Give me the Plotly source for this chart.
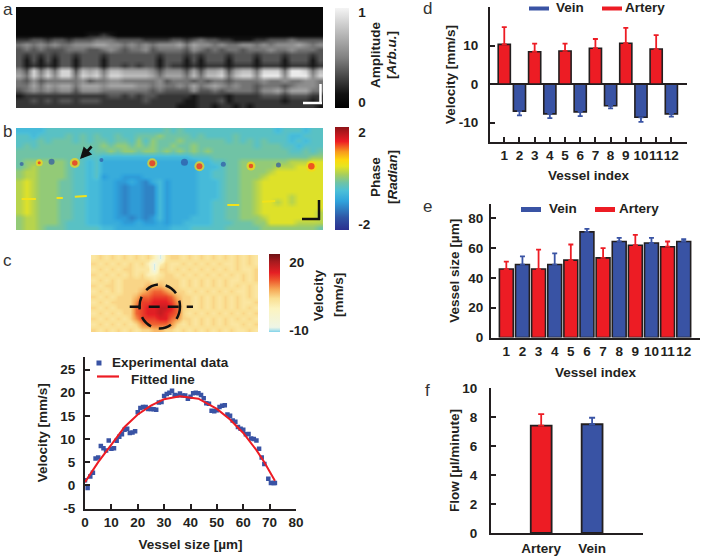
import plotly.graph_objects as go

W, H = 701, 557
FONT = "Liberation Sans"
DARK = "#231f20"
RED = "#ed1c24"
BLUE = "#3953a4"

# ---------- panel a: amplitude image, digits 0-9 = 0..1, rows top to bottom
amp_rows = [
    "00000000000 00000000000 00000000000 00000000000",
    "00000000000 00000000000 00000000000 00000000000",
    "00000000000 00000000000 00000000000 00000000000",
    "00000000000 00000000000 00000000000 00000000000",
    "00000000000 00000000000 00000000000 00000000000",
    "00000000001 12100000000 00000000000 00000000000",
    "22332332333 44433332222 33234332211 12233343333",
    "45454544555 66554545455 56465545445 54545556545",
    "34343334443 34543445344 44354343443 44454454443",
    "32323233233 32333333323 33232333233 32333233323",
    "31313133133 31333333313 33131333133 31333133313",
    "31212133133 31332323313 22121222122 21222122212",
    "53847488376 74776666535 55363667367 74888499847",
    "64858588487 85887777646 66474778478 85999599958",
    "43534444453 44554444453 44434344344 44544544554",
    "44646566466 65666655454 45464565454 43444345554",
    "34545455355 54444444343 33353343444 43556466644",
    "12222222222 22332323322 22212222122 22333233322",
    "22323233233 32222223222 22112223122 22222122212",
    "22222222222 22222222222 21112212212 12222222221",
]

# ---------- panel b: phase image, digits index into phase_levels
phase_levels = [-1.3, -1.08, -0.86, -0.64, -0.42, -0.2, 0.02, 0.24, 0.46, 0.68]
phase_rows = [
    "33334444444 44444444445 45444444444 44443444344",
    "44344445454 54454455565 55545444454 44444433444",
    "44454555454 55455464655 56555555454 54544434344",
    "45455555555 56566565655 65565555555 54555443444",
    "55555555554 55656656656 56565655555 55555544545",
    "55555555544 43333333333 33344455555 55555555566",
    "56666665543 42222222222 22223344556 66666677788",
    "56766665443 42222222222 22223334556 66667778888",
    "67766665443 42222222222 22223344556 66678888888",
    "67766665443 41221112222 22223344556 66788888888",
    "78766655443 32211210231 22223334556 67888888888",
    "78766655443 32210110031 22223334556 67888888888",
    "78766655443 32210110031 22223334556 67888888888",
    "78766655443 32210110031 22223334556 67888878888",
    "78766655443 32210110031 22223344556 67887878888",
    "78766655443 32210110031 22223344556 67888888888",
    "78766655443 32210110031 22223344556 67888888887",
    "67766655443 32211010131 22233344556 66788888887",
    "67766654443 32221121121 22333344455 56688887777",
    "67765554444 43322222222 33344444555 55666666665",
]
red_x = [59, 136.7, 184, 235.7, 296.3]
red_y = [35, 35.3, 38.3, 38, 38.3]
small_x = [23.3]
small_y = [34.7]
dark_x = [35.7, 169, 208, 263.3, 5.7, 85.7]
dark_y = [33.7, 34.3, 36.3, 37, 36, 32]
streak_x = [5.7, 20, None, 40.7, 47, None, 59, 71, None, 212, 224, None, 247, 260]
streak_y = [71, 71, None, 70, 70, None, 68.7, 68, None, 77, 77, None, 73.7, 73]

# ---------- panel c: velocity image, digits index into vel_levels
vel_levels = [-9.5, 0, 2.4, 4.6, 6.8, 9, 11.2, 13.4, 15.6, 17.8]
vel_rows = [
    "2323232 3231023 3232323 2323232",
    "3232323 2310132 2323232 3223232",
    "2323233 2220332 3232323 2323223",
    "3232323 2311233 2323232 3232323",
    "2323233 3332333 3232323 2322323",
    "3233233 3344433 3232323 2323232",
    "2323233 3456654 3323232 3232232",
    "3232333 4667776 4332323 2323232",
    "2323333 5778887 5332323 2323223",
    "3232333 6788998 6332323 2323232",
    "2323233 6788987 6323232 3232323",
    "3232323 5777886 5332323 2323232",
    "2323232 3566665 3232323 2322323",
    "3232323 2334433 2323232 3232232",
]

# ---------- profile chart
profile_x = list(range(0, 69)) + [69.5, 70.5, 71.5, 72]
profile_y = [1.1, -0.6, 1.9, 2.7, 5.8, 6.0, 8.5, 8.0, 7.5, 9.7, 7.9, 8.0, 9.6, 10.5, 11.0, 12.0,
             12.2, 11.3, 11.4, 11.7, 15.8, 16.7, 16.9, 16.9, 16.5, 16.5, 16.4, 16.3, 17.9, 18.0,
             19.3, 19.7, 20.0, 20.4, 19.5, 19.4, 19.8, 19.4, 19.4, 18.7, 19.1, 19.9, 20.0, 19.9,
             19.5, 18.8, 17.7, 17.6, 16.1, 16.0, 16.2, 16.9, 17.2, 17.3, 15.3, 15.0, 14.0, 13.7,
             12.6, 12.2, 12.0, 11.0, 11.1, 10.1, 10.0, 9.7, 7.9, 6.0, 4.6, 1.4, 0.5, 0.5, 0.5]
fit_x = [0, 5, 10, 15, 20, 25, 30, 36, 43, 50, 55, 60, 65, 68, 72]
fit_y = [0.7, 5.0, 8.8, 12.6, 15.3, 17.2, 18.6, 19.2, 18.7, 16.5, 14.2, 11.3, 7.6, 5.0, 1.0]

# ---------- panel d
art_idx = [1, 3, 5, 7, 9, 11]
vein_idx = [2, 4, 6, 8, 10, 12]
d_art = [10.3, 8.4, 8.6, 9.3, 10.6, 9.1]
d_art_err = [4.5, 2.1, 1.9, 2.4, 4.0, 3.6]
d_vein = [-7.0, -7.7, -7.2, -5.6, -8.6, -7.7]
d_vein_err = [1.1, 1.1, 1.1, 0.7, 1.2, 0.7]

# ---------- panel e
e_art = [46, 46, 52, 53.5, 62, 61]
e_art_err = [5, 13, 10.5, 6.5, 7, 3.5]
e_vein = [49, 49, 71, 64.5, 63.5, 64.5]
e_vein_err = [5.5, 7.5, 2, 2.5, 3.5, 1.5]
vessel_ticks = list(range(1, 13))

# ---------- panel f
f_labels = ["Artery", "Vein"]
f_vals = [7.4, 7.5]
f_errs = [0.8, 0.45]


def expand(rows, levels=None):
    out = []
    for r in rows:
        r = r.replace(" ", "")
        out.append([int(c) / 9 if levels is None else levels[int(c)] for c in r])
    return out


def dom_x(a, b):
    return [a / W, b / W]


def dom_y(top, bottom):
    return [1 - bottom / H, 1 - top / H]


fig = go.Figure()
layout = {}
tickfont = dict(family=FONT, size=13.5, color=DARK, weight="bold")
titlefont = dict(family=FONT, size=13.5, color=DARK, weight="bold")


def image_axes(n, x0, x1, y0, y1, xr, yr):
    layout[f"xaxis{n}"] = dict(domain=dom_x(x0, x1), range=xr, anchor=f"y{n}", visible=False, automargin=False)
    layout[f"yaxis{n}"] = dict(domain=dom_y(y0, y1), range=yr, anchor=f"x{n}", visible=False, automargin=False)


def chart_axes(n, x0, x1, y0, y1, xr, yr, xticks, xtext, yticks, xtitle, ytitle,
               xticklen=5, standoff=10, ystandoff=6, ygap=0, xgap=0):
    layout[f"xaxis{n}"] = dict(domain=dom_x(x0, x1), range=xr, anchor=f"y{n}", showgrid=False,
                               zeroline=False, showline=True, linecolor=DARK, linewidth=2,
                               ticks="inside" if xticklen else "", ticklen=xticklen, tickwidth=2,
                               tickcolor=DARK, tickmode="array", tickvals=xticks, ticktext=xtext,
                               tickangle=0, tickfont=tickfont, automargin=False, ticklabelstandoff=xgap,
                               title=dict(text=xtitle, font=titlefont, standoff=standoff))
    layout[f"yaxis{n}"] = dict(domain=dom_y(y0, y1), range=yr, anchor=f"x{n}", showgrid=False,
                               zeroline=False, showline=True, linecolor=DARK, linewidth=2,
                               ticks="inside", ticklen=5, tickwidth=2, tickcolor=DARK,
                               tickmode="array", tickvals=yticks, ticktext=[str(v) for v in yticks],
                               tickfont=tickfont, automargin=False, ticklabelstandoff=ygap,
                               title=dict(text=ytitle, font=titlefont, standoff=ystandoff))


def cbar(x, top, bottom, vals, thick):
    return dict(x=x / W, xanchor="left", y=1 - bottom / H, yanchor="bottom",
                len=(bottom - top) / H, lenmode="fraction", thickness=thick, outlinewidth=0,
                xpad=0, ypad=0, tickmode="array", tickvals=vals, ticktext=[str(v) for v in vals],
                ticks="outside", ticklen=7, tickcolor="rgba(0,0,0,0)", tickfont=tickfont)


# Panel a
fig.add_trace(go.Heatmap(z=expand(amp_rows), x0=3.5, dx=7, y0=2.5, dy=5.05, xaxis="x", yaxis="y",
                         zsmooth="best", zmin=-0.067, zmax=1.044,
                         colorscale=[[0, "#000000"], [0.14, "#111111"], [0.5, "#808080"], [1, "#f4f4f4"]],
                         colorbar=cbar(335, 8, 108, [0, 1], 14), hoverinfo="skip"))
image_axes("", 16, 323, 7, 108, [0, 308], [101, 0])
layout["xaxis"]["anchor"] = "y"; layout["yaxis"]["anchor"] = "x"

# Panel b
phase_cs = [[0, "#2b2f8f"], [0.12, "#2f55a5"], [0.28, "#2fa3dc"], [0.38, "#4bbfd8"],
            [0.46, "#70c3a5"], [0.54, "#a9cf5a"], [0.62, "#e8e420"], [0.68, "#fdd80e"],
            [0.76, "#f79a1e"], [0.86, "#ed1c24"], [1, "#8e1418"]]
fig.add_trace(go.Heatmap(z=expand(phase_rows, phase_levels), x0=3.5, dx=7, y0=2.55, dy=5.1,
                         xaxis="x2", yaxis="y2", zsmooth="best", zmin=-2.26, zmax=2.22,
                         colorscale=phase_cs, colorbar=cbar(335, 127, 230, [-2, 2], 14),
                         hoverinfo="skip"))
image_axes(2, 16, 323, 128, 230, [0, 308], [102, 0])
fig.add_trace(go.Scatter(x=streak_x, y=streak_y, xaxis="x2", yaxis="y2", mode="lines",
                         line=dict(color="#f2e21a", width=2), hoverinfo="skip", showlegend=False))
fig.add_trace(go.Scatter(x=red_x + small_x, y=red_y + small_y, xaxis="x2", yaxis="y2", mode="markers",
                         marker=dict(color="#f9d713", size=[10, 10, 10, 9, 11, 7], line=dict(width=0)),
                         hoverinfo="skip", showlegend=False))
fig.add_trace(go.Scatter(x=red_x + small_x, y=red_y + small_y, xaxis="x2", yaxis="y2", mode="markers",
                         marker=dict(color=RED, size=[5.5, 6, 6, 4.5, 6.5, 3], line=dict(width=0)),
                         hoverinfo="skip", showlegend=False))
fig.add_trace(go.Scatter(x=dark_x, y=dark_y, xaxis="x2", yaxis="y2", mode="markers",
                         marker=dict(color="#2f55a5", size=[6, 7, 5, 5, 4, 4], line=dict(width=0)),
                         hoverinfo="skip", showlegend=False))

# Panel c image
vel_cs = [[0, "#7fd3ea"], [0.03, "#bfe6ea"], [0.06, "#eef5e6"], [0.3, "#fcf4c0"], [0.43, "#fadf92"],
          [0.55, "#f6a654"], [0.66, "#ee5a2e"], [0.76, "#e51f24"], [0.9, "#a81a1e"], [1, "#6e1214"]]
fig.add_trace(go.Heatmap(z=expand(vel_rows, vel_levels), x0=3, dx=5.96, y0=2.75, dy=5.5,
                         xaxis="x3", yaxis="y3", zsmooth="best", zmin=-10.9, zmax=23.5,
                         colorscale=vel_cs, colorbar=cbar(269, 254, 332, [-10, 20], 11),
                         hoverinfo="skip"))
image_axes(3, 91, 258, 255, 332, [0, 167], [77, 0])

# Profile chart
fig.add_trace(go.Scatter(x=profile_x, y=profile_y, xaxis="x4", yaxis="y4", mode="markers",
                         marker=dict(symbol="square", color=BLUE, size=4.5, line=dict(width=0)), showlegend=False))
fig.add_trace(go.Scatter(x=fit_x, y=fit_y, xaxis="x4", yaxis="y4", mode="lines",
                         line=dict(color=RED, width=2), showlegend=False))
chart_axes(4, 85, 296, 357, 508.5, [0, 80], [-5, 27.7], list(range(0, 81, 10)),
           [str(v) for v in range(0, 81, 10)], [-5, 0, 5, 10, 15, 20, 25],
           "Vessel size [µm]", "Velocity [mm/s]", standoff=11, ystandoff=10, ygap=5)


def bars(n, xs, ys, errs, color, width, down=False):
    ey = dict(type="data", symmetric=False, array=[0] * len(errs) if down else errs,
              arrayminus=errs if down else [0] * len(errs), color=color, thickness=1.8, width=2.5)
    return go.Bar(x=xs, y=ys, xaxis=f"x{n}", yaxis=f"y{n}", width=width, error_y=ey,
                  marker=dict(color=color, line=dict(color=DARK, width=1.6)), showlegend=False)


# Panel d
fig.add_trace(bars(5, art_idx, d_art, d_art_err, RED, 0.8))
fig.add_trace(bars(5, vein_idx, d_vein, d_vein_err, BLUE, 0.8, True))
chart_axes(5, 490, 687, 7, 142, [0.06, 13.03], [-15, 20], vessel_ticks,
           [str(v) for v in vessel_ticks], [-10, 0, 10, 20], "Vessel index", "Velocity [mm/s]",
           standoff=8, ystandoff=0, ygap=7)
layout["yaxis5"].update(zeroline=True, zerolinecolor=DARK, zerolinewidth=2)

# Panel e
fig.add_trace(bars(6, art_idx, e_art, e_art_err, RED, 0.86))
fig.add_trace(bars(6, vein_idx, e_vein, e_vein_err, BLUE, 0.86))
chart_axes(6, 491, 700, 204, 337.5, [0.05, 13.01], [0, 89.7], vessel_ticks,
           [str(v) for v in vessel_ticks], [0, 20, 40, 60, 80], "Vessel index", "Vessel size [µm]",
           xticklen=0, standoff=10, ystandoff=6, ygap=3)

# Panel f
fig.add_trace(go.Bar(x=[1, 2], y=f_vals, xaxis="x7", yaxis="y7", width=0.41, showlegend=False,
                     marker=dict(color=[RED, BLUE], line=dict(color=DARK, width=1.8))))
fig.add_trace(go.Scatter(x=[1], y=[f_vals[0]], xaxis="x7", yaxis="y7", mode="none", showlegend=False,
                         error_y=dict(type="data", symmetric=False, array=[f_errs[0]], arrayminus=[0],
                                      color=RED, thickness=1.8, width=3)))
fig.add_trace(go.Scatter(x=[2], y=[f_vals[1]], xaxis="x7", yaxis="y7", mode="none", showlegend=False,
                         error_y=dict(type="data", symmetric=False, array=[f_errs[1]], arrayminus=[0],
                                      color=BLUE, thickness=1.8, width=3)))
chart_axes(7, 491, 643, 388, 533, [0.014, 3.0], [0, 10], [1, 2], f_labels, [0, 2, 4, 6, 8, 10],
           "", "Flow [µl/minute]", xticklen=0, ystandoff=0, ygap=9, xgap=2)


def px_x(v):
    return v / W


def px_y(v):
    return 1 - v / H


shapes = []


def pline(x0, y0, x1, y1, color, width, dash=None):
    line = dict(color=color, width=width)
    if dash:
        line["dash"] = dash
    shapes.append(dict(type="line", xref="paper", yref="paper", x0=px_x(x0), y0=px_y(y0),
                       x1=px_x(x1), y1=px_y(y1), line=line))


# scale bars
pline(303, 103, 322, 103, "white", 2.5)
pline(320.5, 84, 320.5, 104, "white", 2.5)
pline(302, 219, 320, 219, "#111111", 2.5)
pline(319, 200, 319, 220, "#111111", 2.5)
# circle and section line on the velocity image
shapes.append(dict(type="circle", xref="paper", yref="paper", x0=px_x(139.5), x1=px_x(180),
                   y0=px_y(328.5), y1=px_y(284.5), line=dict(color="#111111", width=2.5, dash="13px,8px")))
pline(129.7, 306.7, 193, 306.7, "#111111", 2.5, "11px,8px")
# hand-drawn keys
pline(529, 8.5, 549, 8.5, BLUE, 4)
pline(602, 8.5, 622, 8.5, RED, 4)
pline(521, 209.5, 541, 209.5, BLUE, 5)
pline(595, 209.5, 615, 209.5, RED, 5)
pline(97, 376.5, 119, 376.5, RED, 2.2)

ann = []


def text(x, y, s, size=13.5, bold=True, angle=0, anchor="left", color=DARK):
    ann.append(dict(xref="paper", yref="paper", x=px_x(x), y=px_y(y), text=s, showarrow=False,
                    xanchor=anchor, yanchor="middle", textangle=angle,
                    font=dict(family=FONT, size=size, color=color, weight="bold" if bold else "normal")))


for letter, x, y in [("a", 1, 10), ("b", 1, 132), ("c", 1, 260), ("d", 421, 9), ("e", 421, 206), ("f", 423, 390)]:
    text(x, y, letter, size=17, bold=False, color="#333333")
text(375, 55, "Amplitude", angle=-90, anchor="center")
text(391, 55, "[<i>Arb.u.</i>]", angle=-90, anchor="center")
text(375, 177, "Phase", angle=-90, anchor="center")
text(392, 177, "[<i>Radian</i>]", angle=-90, anchor="center")
text(318, 295, "Velocity", angle=-90, anchor="center")
text(338, 295, "[mm/s]", angle=-90, anchor="center")
text(554, 8, "Vein")
text(623, 8, "Artery")
text(547, 208.5, "Vein")
text(617, 208, "Artery")
text(110, 362.5, "Experimental data")
text(129, 379, "Fitted line")
# arrow on the phase image
ann.append(dict(xref="paper", yref="paper", x=px_x(80), y=px_y(159), ax=13, ay=-14, text="",
                showarrow=True, arrowhead=2, arrowsize=0.9, arrowwidth=2.6, arrowcolor="#111111"))

# legend marker for the profile chart
fig.add_trace(go.Scatter(x=[5.3], y=[26.4], xaxis="x4", yaxis="y4", mode="markers", showlegend=False,
                         marker=dict(symbol="square", color=BLUE, size=5, line=dict(width=0)), hoverinfo="skip"))

fig.update_layout(width=W, height=H, margin=dict(l=0, r=0, t=0, b=0, autoexpand=False), autosize=False,
                  template="none", paper_bgcolor="white", plot_bgcolor="white", barmode="overlay",
                  shapes=shapes, annotations=ann, showlegend=False, **layout)
fig.write_html("out.html", config={"displayModeBar": False},
               post_script="document.body.style.margin='0';document.body.style.overflow='hidden';")
